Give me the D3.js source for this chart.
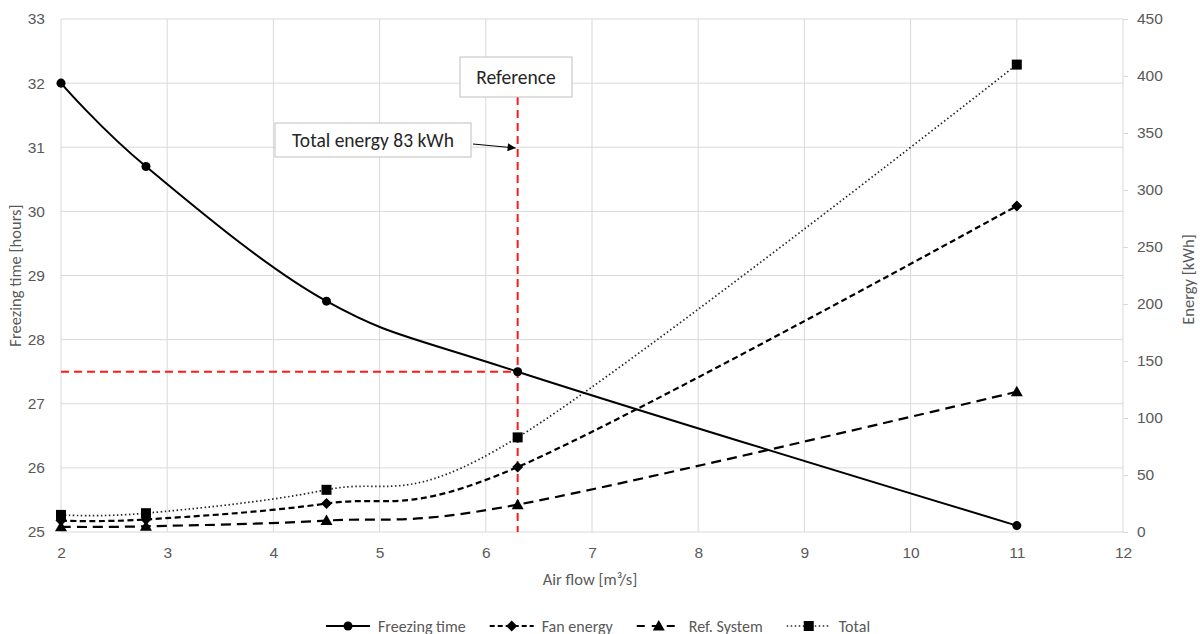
<!DOCTYPE html>
<html>
<head>
<meta charset="utf-8">
<script src="https://cdn.jsdelivr.net/npm/d3@7"></script>
<style>
  html, body { margin: 0; padding: 0; background: #fff; }
  svg { display: block; font-family: Carlito, "Open Sans", "Noto Sans", sans-serif; }
</style>
</head>
<body>
<svg id="chart" width="1200" height="634"></svg>
<script>
// Air flow through the freezer [m³/s]
const airFlow = [2, 2.8, 4.5, 6.3, 11];
// Freezing time [hours] (left axis)
const freezingTime = [32.0, 30.7, 28.6, 27.5, 25.1];
// Energy use [kWh] (right axis)
const fanEnergy = [10, 11, 25, 57, 286];
const refSystem = [4.5, 5, 10, 24, 123];
const totalEnergy = [15, 16.5, 37, 83, 410];

const xTicks = [2, 3, 4, 5, 6, 7, 8, 9, 10, 11, 12];
const leftTicks = [25, 26, 27, 28, 29, 30, 31, 32, 33];
const rightTicks = [0, 50, 100, 150, 200, 250, 300, 350, 400, 450];

const referenceFlow = 6.3;
const referenceTime = 27.5;
const referenceTotal = 83;

const svg = d3.select("#chart");
const m = { left: 61, right: 1123, top: 19, bottom: 532 };

const x = d3.scaleLinear().domain([2, 12]).range([m.left, m.right]);
const yL = d3.scaleLinear().domain([25, 33]).range([m.bottom, m.top]);
const yR = d3.scaleLinear().domain([0, 450]).range([m.bottom, m.top]);

const grid = "#d9d9d9";
const tickColor = "#595959";
const tickFont = "15.5px";
const titleFont = "16.5px";
const legendFont = "16px";
const calloutFont = "19.5px";

// gridlines
svg.append("g").selectAll("line").data(leftTicks).join("line")
  .attr("x1", m.left).attr("x2", m.right)
  .attr("y1", d => yL(d)).attr("y2", d => yL(d))
  .attr("stroke", grid).attr("stroke-width", 1);
svg.append("g").selectAll("line").data(xTicks).join("line")
  .attr("x1", d => x(d)).attr("x2", d => x(d))
  .attr("y1", m.top).attr("y2", m.bottom)
  .attr("stroke", grid).attr("stroke-width", 1);

// axes
const styleAxis = g => {
  g.select(".domain").remove();
  g.selectAll("text").attr("fill", tickColor).style("font-size", tickFont);
};
svg.append("g").attr("transform", `translate(0,${m.bottom})`)
  .call(d3.axisBottom(x).tickValues(xTicks).tickSize(0).tickPadding(15).tickFormat(d3.format("d")))
  .call(styleAxis);
svg.append("g").attr("transform", `translate(${m.left},0)`)
  .call(d3.axisLeft(yL).tickValues(leftTicks).tickSize(0).tickPadding(16).tickFormat(d3.format("d")))
  .call(styleAxis);
svg.append("g").attr("transform", `translate(${m.right},0)`)
  .call(d3.axisRight(yR).tickValues(rightTicks).tickSize(5).tickPadding(9).tickFormat(d3.format("d")))
  .call(styleAxis)
  .call(g => g.selectAll("line").attr("stroke", grid));

// axis titles
svg.append("text").attr("x", 590).attr("y", 585).attr("text-anchor", "middle")
  .attr("fill", tickColor).style("font-size", titleFont).text("Air flow [m³/s]");
svg.append("text").attr("transform", `translate(21,${(m.top + m.bottom) / 2}) rotate(-90)`)
  .attr("text-anchor", "middle").attr("fill", tickColor).style("font-size", titleFont)
  .text("Freezing time [hours]");
svg.append("text").attr("transform", `translate(1194,${(m.top + m.bottom) / 2 + 4}) rotate(-90)`)
  .attr("text-anchor", "middle").attr("fill", tickColor).style("font-size", titleFont)
  .text("Energy [kWh]");

// reference guide lines
const red = "#ff1a1a";
svg.append("line")
  .attr("x1", m.left).attr("x2", x(referenceFlow))
  .attr("y1", yL(referenceTime)).attr("y2", yL(referenceTime))
  .attr("stroke", red).attr("stroke-width", 2).attr("stroke-dasharray", "8,5");
svg.append("line")
  .attr("x1", x(referenceFlow)).attr("x2", x(referenceFlow))
  .attr("y1", 97).attr("y2", m.bottom)
  .attr("stroke", red).attr("stroke-width", 2).attr("stroke-dasharray", "8,5");

// series
const curve = d3.curveCardinal.tension(0);
const series = [
  { name: "Freezing time", values: freezingTime, y: yL, dash: null, legendDash: null, width: 2, marker: "circle" },
  { name: "Fan energy", values: fanEnergy, y: yR, dash: "6,3.5", legendDash: "5,3", width: 2.2, marker: "diamond" },
  { name: "Ref. System", values: refSystem, y: yR, dash: "10,6", legendDash: "8,7", width: 2.2, marker: "triangle" },
  { name: "Total", values: totalEnergy, y: yR, dash: "1.5,2.5", legendDash: "1.5,2.5", width: 1.7, marker: "square" }
];

const markerPath = (type) => {
  if (type === "circle") return d3.symbol(d3.symbolCircle, 64)();
  if (type === "diamond") return "M0,-5.5L5.5,0L0,5.5L-5.5,0Z";
  if (type === "triangle") return "M0,-6L6,4.5L-6,4.5Z";
  return "M-5,-5H5V5H-5Z";
};

series.slice().reverse().forEach(s => {
  const pts = airFlow.map((a, i) => [x(a), s.y(s.values[i])]);
  svg.append("path")
    .attr("d", d3.line().curve(curve)(pts))
    .attr("fill", "none").attr("stroke", s.name === "Total" ? "#262626" : "#000")
    .attr("stroke-width", s.width)
    .attr("stroke-dasharray", s.dash);
});
series.slice().reverse().forEach(s => {
  svg.append("g").selectAll("path").data(airFlow).join("path")
    .attr("transform", (a, i) => `translate(${x(a)},${s.y(s.values[i])})`)
    .attr("d", markerPath(s.marker)).attr("fill", "#000");
});

// callout boxes
const textColor = "#262626";
const refBox = svg.append("g");
refBox.append("rect").attr("x", 460).attr("y", 57).attr("width", 112).attr("height", 40)
  .attr("fill", "#fff").attr("stroke", "#bfbfbf").attr("stroke-width", 1);
refBox.append("text").attr("x", 516).attr("y", 83.5).attr("text-anchor", "middle")
  .attr("fill", textColor).style("font-size", calloutFont).text("Reference");

const totBox = svg.append("g");
totBox.append("rect").attr("x", 275).attr("y", 123).attr("width", 196).attr("height", 34)
  .attr("fill", "#fff").attr("stroke", "#bfbfbf").attr("stroke-width", 1);
totBox.append("text").attr("x", 373).attr("y", 146.5).attr("text-anchor", "middle")
  .attr("fill", textColor).style("font-size", calloutFont).text(`Total energy ${referenceTotal} kWh`);

svg.append("defs").append("marker").attr("id", "arrow")
  .attr("viewBox", "0 0 10 10").attr("refX", 10).attr("refY", 5)
  .attr("markerWidth", 10).attr("markerHeight", 8).attr("markerUnits", "userSpaceOnUse")
  .attr("orient", "auto")
  .append("path").attr("d", "M0,0L10,5L0,10Z").attr("fill", "#000");
svg.append("line").attr("x1", 473).attr("y1", 144).attr("x2", x(referenceFlow) - 2).attr("y2", 148)
  .attr("stroke", "#000").attr("stroke-width", 1).attr("marker-end", "url(#arrow)");

// legend
const legend = svg.append("g");
let lx = 326;
const ly = 626;
series.forEach(s => {
  const g = legend.append("g").attr("transform", `translate(${lx},${ly})`);
  g.append("line").attr("x1", 0).attr("x2", 44).attr("y1", 0).attr("y2", 0)
    .attr("stroke", s.name === "Total" ? "#262626" : "#000")
    .attr("stroke-width", s.width)
    .attr("stroke-dasharray", s.legendDash);
  g.append("path").attr("transform", "translate(22,0)").attr("d", markerPath(s.marker)).attr("fill", "#000");
  const t = g.append("text").attr("x", 52).attr("y", 5.5).attr("fill", tickColor)
    .style("font-size", legendFont).text(s.name);
  lx += 52 + t.node().getComputedTextLength() + 24;
});
</script>
</body>
</html>
